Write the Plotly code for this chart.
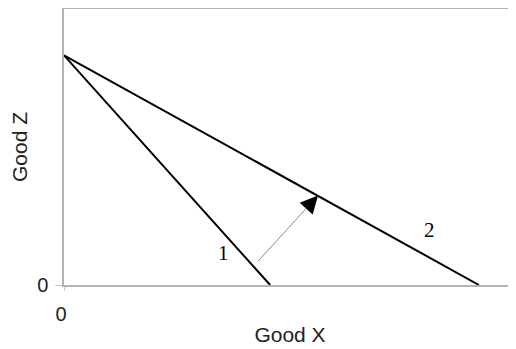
import plotly.graph_objects as go

# budget lines, in units of the axis (0..100)
z_intercept = 83.2
line1_x = [0, 45.6]
line1_z = [z_intercept, 0]
line2_x = [0, 91.8]
line2_z = [z_intercept, 0]

# the shift arrow from line 1 towards line 2
arrow_x = [42.9, 56.2]
arrow_z = [8.6, 32.4]

line_labels = ["1", "2"]
label_x = [35.3, 80.8]
label_z = [11.5, 19.8]

fig = go.Figure()
fig.add_trace(go.Scatter(x=line1_x, y=line1_z, mode="lines",
                         line=dict(color="black", width=2), hoverinfo="skip"))
fig.add_trace(go.Scatter(x=line2_x, y=line2_z, mode="lines",
                         line=dict(color="black", width=2), hoverinfo="skip"))
fig.add_trace(go.Scatter(x=arrow_x, y=arrow_z, mode="lines",
                         line=dict(color="#8a8a8a", width=1), hoverinfo="skip"))

# black arrow head on the grey shaft
fig.add_annotation(x=arrow_x[1], y=arrow_z[1], ax=arrow_x[1] - 2.0, ay=arrow_z[1] - 3.6,
                   xref="x", yref="y", axref="x", ayref="y", text="",
                   showarrow=True, arrowhead=2, arrowsize=2.2, arrowwidth=1.6,
                   arrowcolor="black")

for t, lx, lz in zip(line_labels, label_x, label_z):
    fig.add_annotation(x=lx, y=lz, text=t, showarrow=False,
                       font=dict(family="Liberation Serif", size=21, color="black"))

tick_font = dict(family="Liberation Sans", size=20, color="#222")
title_font = dict(family="Liberation Sans", size=21, color="#222")
fig.update_xaxes(range=[0, 100], showline=True, linecolor="#b4b4b4", linewidth=2,
                 mirror=True, showgrid=False, zeroline=False, automargin=False,
                 tickvals=[0], ticktext=["0"], ticks="outside", ticklen=4,
                 tickcolor="#c8c8c8", tickfont=tick_font, ticklabelstandoff=6,
                 ticklabelshift=-3,
                 title=dict(text="Good X", font=title_font, standoff=3))
fig.update_yaxes(range=[0, 100], showline=True, linecolor="#b4b4b4", linewidth=1.5,
                 showgrid=False, zeroline=False, automargin=False,
                 tickvals=[0], ticktext=["0"], ticks="outside", ticklen=7,
                 tickcolor="#c8c8c8", tickfont=tick_font, ticklabelstandoff=3,
                 title=dict(text="Good Z", font=title_font, standoff=6))
# the page body adds an 8px margin, so the figure is 8px smaller than the window
fig.update_layout(width=508, height=341, showlegend=False,
                  margin=dict(l=56, r=0, t=1, b=64),
                  plot_bgcolor="white", paper_bgcolor="white")

fig.write_html("out.html")
